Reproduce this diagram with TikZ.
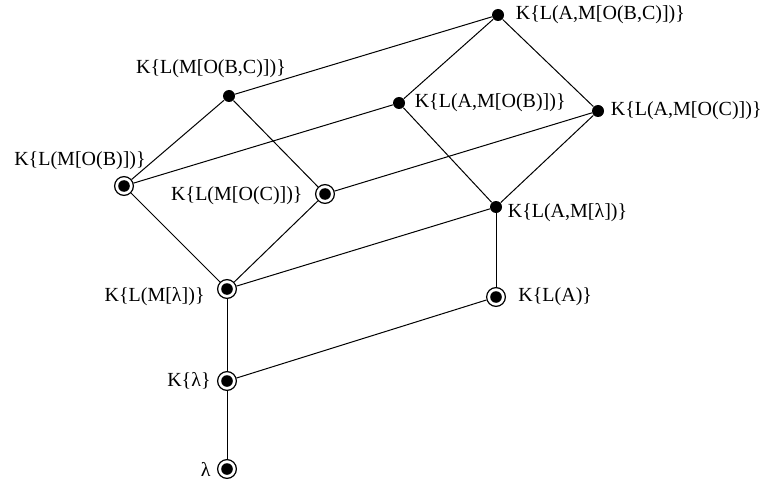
\documentclass[tikz,border=0pt]{standalone}
\usepackage{fontspec}
\setmainfont{Liberation Serif}
\begin{document}
\begin{tikzpicture}[x=0.5pt,y=-0.5pt,
    elem/.style={circle, fill, inner sep=0pt, minimum size=6pt},
    gen/.style={circle, draw, line width=0.6pt, inner sep=0pt, minimum size=9.4pt,
      path picture={\fill (path picture bounding box.center) circle (2.9pt);}},
    every label/.style={inner sep=0pt, font=\fontsize{10}{12}\selectfont},
    label distance=5pt]
    \useasboundingbox (0,0) rectangle (769,486);

    % upper elements
    \node[elem, label={[label distance=5.5pt]right:{K\{L(A,M[O(B,C)])\}}}] (abc) at (498,15) {};
    \node[elem, label={[xshift=-9pt, label distance=5.5pt]above:{K\{L(M[O(B,C)])\}}}] (mbc) at (229,96) {};
    \node[elem, label={[label distance=4.5pt]right:{K\{L(A,M[O(B)])\}}}] (ab) at (399,103) {};
    \node[elem, label={[label distance=3pt]right:{K\{L(A,M[O(C)])\}}}] (ac) at (598,111) {};

    % generators (circled)
    \node[gen, label={[xshift=-22pt, label distance=3pt]above:{K\{L(M[O(B)])\}}}] (mb) at (124,186) {};
    \node[gen, label={[yshift=-1pt, label distance=6pt]left:{K\{L(M[O(C)])\}}}] (mc) at (325,194) {};
    \node[elem, label={[yshift=-3pt, label distance=2.5pt]right:{K\{L(A,M[λ])\}}}] (al) at (496,207) {};
    \node[gen, label={[yshift=-4pt, label distance=6pt]left:{K\{L(M[λ])\}}}] (ml) at (227,289) {};
    \node[gen, label={[label distance=6pt]right:{K\{L(A)\}}}] (a) at (496,297) {};
    \node[gen, label={[label distance=3pt]left:{K\{λ\}}}] (k) at (227,381) {};
    \node[gen, label={[label distance=3pt]left:{λ}}] (lam) at (227,469) {};

    % order relations
    \begin{scope}[line width=0.5pt]
    \draw (abc) -- (mbc);
    \draw (abc) -- (ab);
    \draw (abc) -- (ac);
    \draw (mbc) -- (mb);
    \draw (mbc) -- (mc);
    \draw (ab) -- (mb);
    \draw (ab) -- (al);
    \draw (ac) -- (mc);
    \draw (ac) -- (al);
    \draw (mb) -- (ml);
    \draw (mc) -- (ml);
    \draw (al) -- (ml);
    \draw (al) -- (a);
    \draw (ml) -- (k);
    \draw (a) -- (k);
    \draw (k) -- (lam);
    \end{scope}
\end{tikzpicture}
\end{document}
